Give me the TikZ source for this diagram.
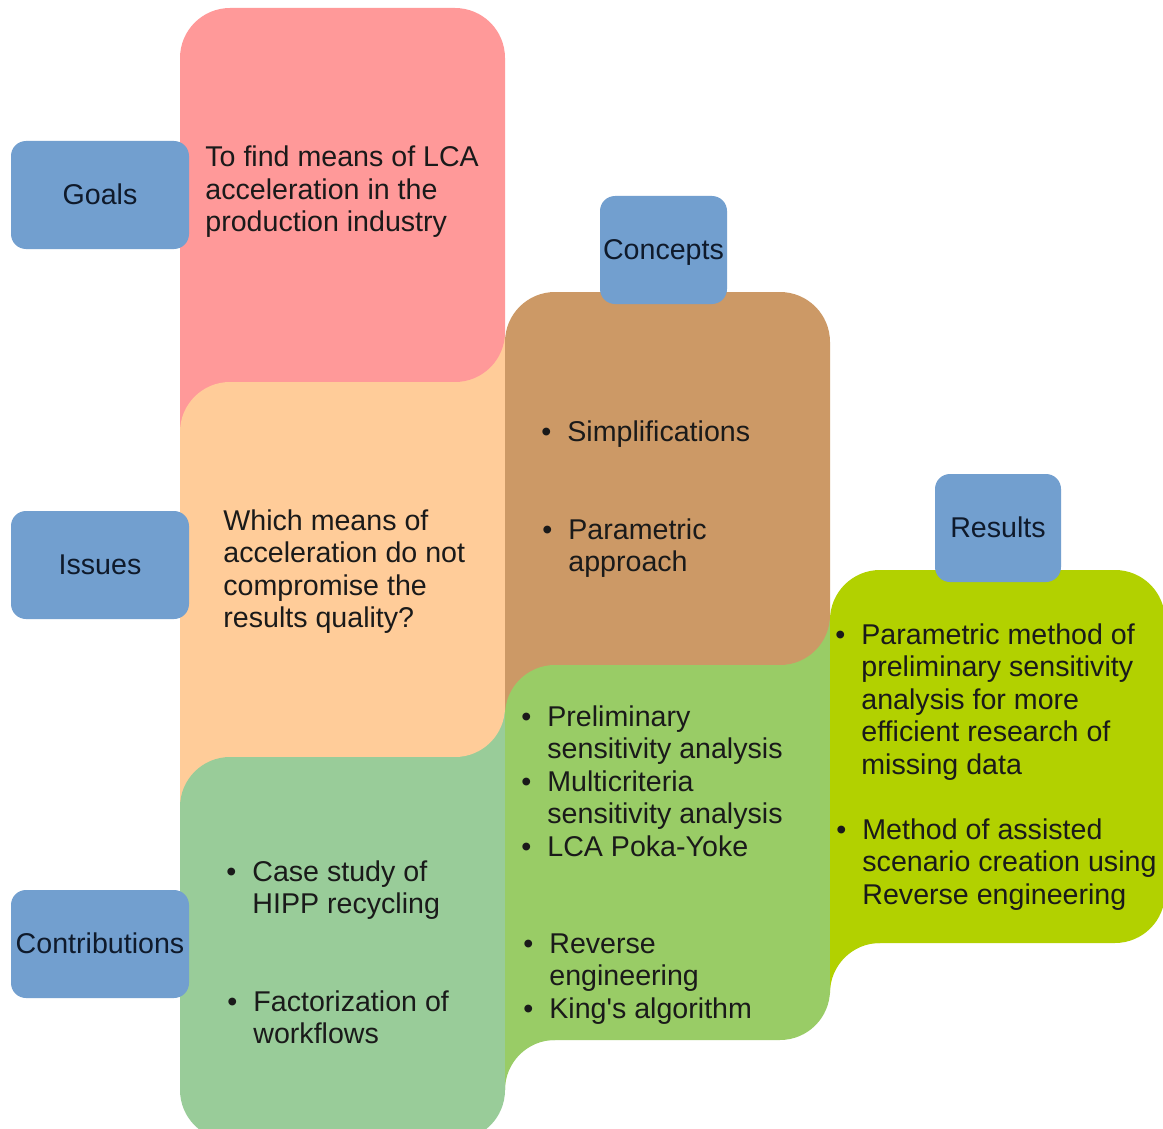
\documentclass[tikz,border=0pt]{standalone}
\usepackage{fontspec}
\setmainfont{Liberation Sans}
\definecolor{pinkc}{HTML}{FF9999}
\definecolor{peachc}{HTML}{FFCC99}
\definecolor{brownc}{HTML}{CC9966}
\definecolor{lgreen}{HTML}{99CC99}
\definecolor{mgreen}{HTML}{99CC66}
\definecolor{limec}{HTML}{B2D100}
\definecolor{bluec}{HTML}{729FCF}
\definecolor{textc}{HTML}{1A1A1A}
\definecolor{labc}{HTML}{0F1A2B}
% block: colour, x0, y0, x1, y1, rTL, rTR, rBR, rBL (px)
\newcommand{\blk}[9]{%
  \fill[#1] (#2,#5-#9) -- (#2,#3+#6) arc[start angle=180,end angle=90,radius=#6*0.5pt]
    -- (#4-#7,#3) arc[start angle=90,end angle=0,radius=#7*0.5pt]
    -- (#4,#5-#8) arc[start angle=0,end angle=-90,radius=#8*0.5pt]
    -- (#2+#9,#5) arc[start angle=270,end angle=180,radius=#9*0.5pt] -- cycle;}
% concave fillet below a block: colour, corner x, corner y, r
\newcommand{\fil}[4]{%
  \fill[#1] (#2,#3) -- (#2+#4,#3) arc[start angle=90,end angle=180,radius=#4*0.5pt] -- cycle;}
\newcommand{\bul}{\llap{•\hspace{8pt}}}
\begin{document}
\begin{tikzpicture}[x=0.5pt,y=-0.5pt,
  txt/.style={anchor=base west,align=left,inner sep=0pt,text=textc,
    font=\fontsize{14.3pt}{16.25pt}\selectfont},
  labelbox/.style={fill=bluec,rounded corners=7.5pt,minimum height=54pt,
    inner sep=0pt,text=labc,text height=0.94em,text depth=0pt,
    font=\fontsize{14.3pt}{16.25pt}\selectfont}]
\useasboundingbox (0,0) rectangle (1163,1129);
\fill[white] (0,0) rectangle (1163,1129);
% column A
\fill[peachc] (455,332) rectangle (505,382);
\blk{pinkc}{180}{8}{505}{382}{50}{50}{50}{0.01}
\fill[pinkc] (180,382) rectangle (230,432);
\fill[lgreen] (455,707) rectangle (505,757);
\blk{peachc}{180}{382}{505}{757}{50}{0.01}{50}{0.01}
\fill[peachc] (180,757) rectangle (230,807);
\blk{lgreen}{180}{757}{505}{1140}{50}{0.01}{50}{50}
% column B
\fill[mgreen] (780,615) rectangle (830,665);
\blk{brownc}{505}{292}{830}{665}{50}{50}{50}{0.01}
\fill[brownc] (505,665) rectangle (555,715);
\blk{mgreen}{505}{665}{830}{1040}{50}{0.01}{50}{0.01}
\fil{mgreen}{505}{1040}{50}
% column C
\blk{limec}{830}{570}{1165}{943}{50}{50}{50}{0.01}
\fil{limec}{830}{943}{50}
% label boxes
\node[labelbox,minimum width=89pt] (goals) at (100,195) {Goals};
\node[labelbox,minimum width=89pt] (issues) at (100,565) {Issues};
\node[labelbox,minimum width=89pt] (contrib) at (100,944) {Contributions};
\node[labelbox,minimum width=63.5pt] (concepts) at (663.5,250) {Concepts};
\node[labelbox,minimum width=63pt] (results) at (998,528) {Results};
% texts (anchor = baseline of last line)
\node[txt] (goaltext) at (205,232) {To find means of LCA\\acceleration in the\\production industry};
\node[txt] (issuetext) at (223,627.5) {Which means of\\acceleration do not\\compromise the\\results quality?};
\node[txt] (c1) at (567,441) {\bul Simplifications};
\node[txt] (c2) at (568,571.5) {\bul Parametric\\approach};
\node[txt] (m1) at (547,758.5) {\bul Preliminary\\sensitivity analysis};
\node[txt] (m2) at (547,823.5) {\bul Multicriteria\\sensitivity analysis};
\node[txt] (m3) at (547,856) {\bul LCA Poka-Yoke};
\node[txt] (m4) at (549,985.5) {\bul Reverse\\engineering};
\node[txt] (m5) at (549,1018) {\bul King\textquotesingle s algorithm};
\node[txt] (l1) at (252,913.5) {\bul Case study of\\HIPP recycling};
\node[txt] (l2) at (253,1043.5) {\bul Factorization of\\workflows};
\node[txt] (r1) at (861,774) {\bul Parametric method of\\preliminary sensitivity\\analysis for more\\efficient research of\\missing data};
\node[txt] (r2) at (862,904) {\bul Method of assisted\\scenario creation using\\Reverse engineering};
\end{tikzpicture}
\end{document}
